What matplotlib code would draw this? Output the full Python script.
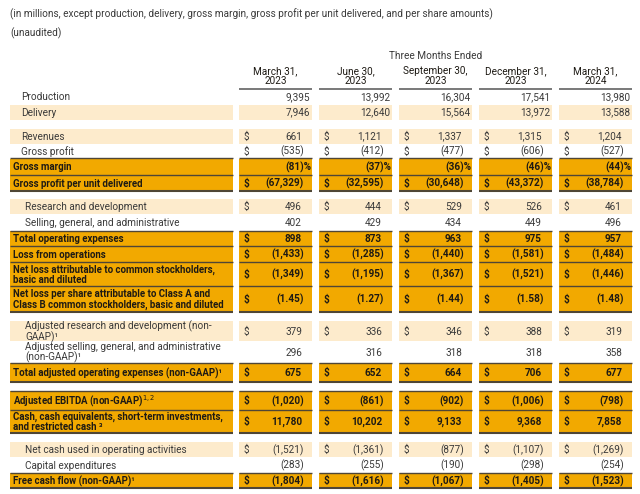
## Quarterly production, delivery and financial summary table, drawn with matplotlib.

import matplotlib.pyplot as plt
from matplotlib.patches import Rectangle

plt.rcParams['font.family'] = ['Roboto', 'DejaVu Sans']

periods = ['March 31,\n2023', 'June 30,\n2023', 'September 30,\n2023',
           'December 31,\n2023', 'March 31,\n2024']

production = [9395, 13992, 16304, 17541, 13980]
delivery = [7946, 12640, 15564, 13972, 13588]
revenues = [661, 1121, 1337, 1315, 1204]
gross_profit = [-535, -412, -477, -606, -527]
gross_margin = [-81, -37, -36, -46, -44]
gp_per_unit = [-67329, -32595, -30648, -43372, -38784]
rnd = [496, 444, 529, 526, 461]
sga = [402, 429, 434, 449, 496]
total_opex = [898, 873, 963, 975, 957]
loss_ops = [-1433, -1285, -1440, -1581, -1484]
net_loss = [-1349, -1195, -1367, -1521, -1446]
eps = [-1.45, -1.27, -1.44, -1.58, -1.48]
adj_rnd = [379, 336, 346, 388, 319]
adj_sga = [296, 316, 318, 318, 358]
adj_opex = [675, 652, 664, 706, 677]
adj_ebitda = [-1020, -861, -902, -1006, -798]
cash = [11780, 10202, 9133, 9368, 7858]
op_cash = [-1521, -1361, -877, -1107, -1269]
capex = [-283, -255, -190, -298, -254]
fcf = [-1804, -1616, -1067, -1405, -1523]

## rows: label, values, style, dollar sign, number format, label indent, row height
rows = [
  ('Production', production, 'plain', False, 'unit', 11, 15.5),
  ('Delivery', delivery, 'light', False, 'unit', 11, 15),
  None, 9,
  ('Revenues', revenues, 'light', True, 'int', 11, 15),
  ('Gross profit', gross_profit, 'plain', True, 'int', 11, 15),
  ('Gross margin', gross_margin, 'bold', False, 'pct', 3, 16.5),
  ('Gross profit per unit delivered', gp_per_unit, 'bold', True, 'int', 3, 16),
  None, 8,
  ('Research and development', rnd, 'light', True, 'int', 15, 15),
  ('Selling, general, and administrative', sga, 'plain', False, 'int', 15, 17),
  ('Total operating expenses', total_opex, 'bold', True, 'int', 3, 15),
  ('Loss from operations', loss_ops, 'bold', True, 'int', 3, 16),
  ('Net loss attributable to common stockholders,\nbasic and diluted', net_loss, 'bold', True, 'int', 3, 24),
  ('Net loss per share attributable to Class A and\nClass B common stockholders, basic and diluted', eps, 'bold', True, 'eps', 3, 26),
  None, 9,
  ('Adjusted research and development (non-\nGAAP)\u00b9', adj_rnd, 'light', True, 'int', 15, 20),
  ('Adjusted selling, general, and administrative\n(non-GAAP)\u00b9', adj_sga, 'plain', False, 'int', 15, 22),
  ('Total adjusted operating expenses (non-GAAP)\u00b9', adj_opex, 'bold', True, 'int', 3, 19),
  None, 9,
  ('Adjusted EBITDA (non-GAAP)$^{1,2}$', adj_ebitda, 'bold', True, 'int', 3, 19),
  ('Cash, cash equivalents, short-term investments,\nand restricted cash \u00b3', cash, 'bold', True, 'int', 3, 23),
  None, 9,
  ('Net cash used in operating activities', op_cash, 'light', True, 'int', 15, 15),
  ('Capital expenditures', capex, 'plain', False, 'int', 15, 16),
  ('Free cash flow (non-GAAP)\u00b9', fcf, 'bold', True, 'int', 3, 15),
]

orange = '#F2A900'
light = '#FDEBCC'
rule = '#4f4636'
txt = '#3a3a3a'
dark = '#1e1a14'

label_span = (10, 233)
col_spans = [(239, 312), (319, 392), (399, 472), (479, 552), (559, 632)]
segments = [label_span] + col_spans
fs = 7.2
fs_bold = 6.95

def fmt(v, kind):
  if kind == 'pct':
    return '(%d)%%' % -v if v < 0 else '%d%%' % v
  if kind == 'eps':
    return '(%.2f)' % -v if v < 0 else '%.2f' % v
  return '({:,})'.format(-v) if v < 0 else '{:,}'.format(v)

fig = plt.figure(figsize=(6.4, 4.94), dpi=100)
ax = fig.add_axes([0, 0, 1, 1])
ax.set_xlim(0, 640)
ax.set_ylim(494, 0)
ax.axis('off')

## titles and column headers
ax.text(10, 14, '(in millions, except production, delivery, gross margin, gross profit per unit delivered, and per share amounts)',
        fontsize=fs, color=txt, va='center')
ax.text(10, 33, '(unaudited)', fontsize=fs, color=txt, va='center')
ax.text((col_spans[0][0] + col_spans[-1][1]) / 2, 56, 'Three Months Ended',
        fontsize=fs, color=txt, ha='center', va='center')
for (x0, x1), p in zip(col_spans, periods):
  ax.text((x0 + x1) / 2, 76, p, fontsize=fs, color=dark, ha='center', va='center',
          linespacing=0.95)
  ax.plot([x0, x1], [89, 89], color='#555555', lw=1.1, solid_capstyle='butt')

## table body
y = 89.0
i = 0
while i < len(rows):
  r = rows[i]
  if r is None:
    y += rows[i + 1]
    i += 2
    continue
  label, vals, style, dollar, kind, indent, h = r
  nxt = rows[i + 1] if i + 1 < len(rows) else None
  yc = y + h / 2
  is_bold = style == 'bold'
  weight = 'bold' if is_bold else 'normal'
  color = dark if is_bold else txt
  for x0, x1 in segments:
    if style == 'light':
      ax.add_patch(Rectangle((x0, y), x1 - x0, h, color=light, lw=0))
    if is_bold:
      ax.add_patch(Rectangle((x0, y), x1 - x0, h, color=orange, lw=0))
      ax.plot([x0, x1], [y, y], color=rule, lw=1.0, solid_capstyle='butt')
      if nxt is None or nxt[2] != 'bold':
        ax.plot([x0, x1], [y + h, y + h], color=rule, lw=1.5, solid_capstyle='butt')
  ax.text(label_span[0] + indent, yc + 0.5, label, fontsize=fs_bold if is_bold else fs,
          color=color, fontweight=weight, va='center', linespacing=1.0)
  for (x0, x1), v in zip(col_spans, vals):
    if dollar:
      ax.text(x0 + 5, yc + 0.5, '$', fontsize=fs, color=color, fontweight=weight, va='center')
    if kind == 'unit':
      xr = x1 - 2
    elif kind == 'pct':
      xr = x1 - 0.5
    elif v < 0:
      xr = x1 - 8
    else:
      xr = x1 - 10
    ax.text(xr, yc + 0.5, fmt(v, kind), fontsize=fs, color=color, fontweight=weight,
            ha='right', va='center')
  y += h
  i += 1

plt.savefig('out.png', dpi=100)
